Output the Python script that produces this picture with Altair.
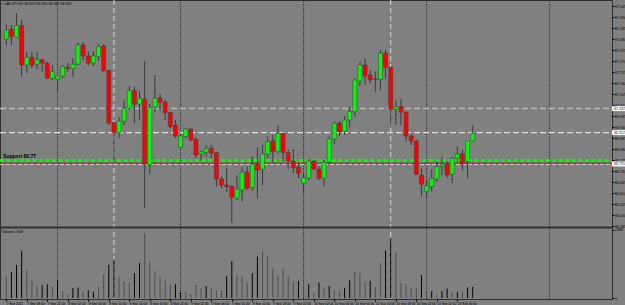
import json
import altair as alt
import pandas as pd

# ---------------- data ----------------
symbol_title = "CADJPY,H1  86.870 86.950 86.867 86.909"
volume_title = "Volume 1949"
note_text = "Support 86.77"

opens = [87.379, 87.428, 87.389, 87.447, 87.250, 87.289, 87.254, 87.277, 87.259, 87.184,
         87.179, 87.195, 87.239, 87.232, 87.254, 87.350, 87.295, 87.259, 87.292, 87.345,
         87.222, 86.962, 86.912, 86.969, 87.034, 87.122, 87.054, 87.079, 86.750, 87.039,
         87.084, 87.064, 87.012, 86.950, 86.839, 86.892, 86.930, 86.879, 86.805, 86.812,
         86.834, 86.812, 86.680, 86.650, 86.645, 86.584, 86.625, 86.714, 86.637, 86.755,
         86.729, 86.805, 86.870, 86.817, 86.909, 86.812, 86.770, 86.740, 86.659, 86.684,
         86.770, 86.729, 86.684, 86.764, 86.880, 86.959, 86.917, 86.975, 87.017, 87.170,
         87.250, 87.200, 87.180, 87.179, 87.309, 87.239, 87.029, 87.042, 87.014, 86.895,
         86.870, 86.700, 86.617, 86.642, 86.680, 86.745, 86.755, 86.704, 86.784, 86.805,
         86.767, 86.870]
highs = [87.455, 87.450, 87.509, 87.475, 87.317, 87.317, 87.314, 87.277, 87.267, 87.250,
         87.194, 87.250, 87.262, 87.284, 87.362, 87.362, 87.317, 87.317, 87.354, 87.354,
         87.225, 86.962, 86.989, 87.072, 87.145, 87.142, 87.120, 87.270, 87.055, 87.199,
         87.105, 87.075, 87.017, 86.975, 86.905, 86.934, 86.934, 86.889, 86.820, 86.850,
         86.850, 86.817, 86.692, 86.734, 86.645, 86.697, 86.739, 86.742, 86.792, 86.837,
         86.850, 86.892, 86.900, 86.947, 86.909, 86.829, 86.829, 86.762, 86.709, 86.779,
         86.775, 86.742, 86.775, 86.892, 86.967, 86.970, 86.995, 87.042, 87.184, 87.267,
         87.284, 87.225, 87.217, 87.325, 87.325, 87.242, 87.072, 87.079, 87.017, 86.905,
         86.875, 86.734, 86.675, 86.729, 86.767, 86.792, 86.767, 86.792, 86.842, 86.825,
         86.870, 86.950]
lows = [87.350, 87.350, 87.385, 87.192, 87.210, 87.234, 87.230, 87.217, 87.180, 87.175,
        87.110, 87.184, 87.217, 87.192, 87.250, 87.272, 87.247, 87.245, 87.272, 87.217,
        86.950, 86.760, 86.884, 86.950, 87.025, 86.959, 86.975, 86.534, 86.705, 87.012,
        87.025, 86.975, 86.934, 86.884, 86.839, 86.884, 86.867, 86.784, 86.772, 86.792,
        86.784, 86.642, 86.634, 86.617, 86.462, 86.575, 86.567, 86.625, 86.622, 86.584,
        86.650, 86.784, 86.759, 86.809, 86.767, 86.729, 86.709, 86.684, 86.617, 86.675,
        86.725, 86.675, 86.645, 86.759, 86.854, 86.895, 86.900, 86.939, 86.992, 87.145,
        87.150, 87.159, 87.117, 87.125, 87.184, 86.950, 86.950, 86.950, 86.867, 86.850,
        86.700, 86.592, 86.584, 86.617, 86.667, 86.700, 86.684, 86.659, 86.759, 86.725,
        86.684, 86.867]
closes = [87.425, 87.392, 87.447, 87.250, 87.289, 87.250, 87.277, 87.259, 87.184, 87.217,
          87.194, 87.242, 87.232, 87.254, 87.350, 87.295, 87.259, 87.295, 87.342, 87.222,
          86.959, 86.912, 86.969, 87.034, 87.122, 87.054, 87.084, 86.755, 87.039, 87.084,
          87.064, 87.012, 86.942, 86.895, 86.895, 86.930, 86.875, 86.800, 86.817, 86.834,
          86.809, 86.680, 86.650, 86.642, 86.589, 86.629, 86.714, 86.634, 86.755, 86.725,
          86.805, 86.867, 86.817, 86.909, 86.812, 86.770, 86.737, 86.709, 86.687, 86.770,
          86.729, 86.684, 86.764, 86.880, 86.959, 86.917, 86.975, 87.017, 87.175, 87.250,
          87.195, 87.175, 87.178, 87.309, 87.239, 87.029, 87.042, 87.014, 86.895, 86.870,
          86.704, 86.654, 86.647, 86.684, 86.742, 86.755, 86.700, 86.784, 86.805, 86.755,
          86.870, 86.909]
volumes = [660, 790, 1010, 1440, 860, 520, 370, 390, 420, 360,
           540, 210, 120, 300, 320, 180, 240, 190, 340, 720,
           1010, 1170, 640, 500, 460, 760, 1070, 1970, 1120, 810,
           640, 520, 390, 420, 190, 170, 120, 400, 300, 360,
           320, 240, 240, 670, 1120, 690, 660, 460, 760, 1260,
           1420, 1270, 910, 660, 890, 660, 490, 520, 330, 420,
           160, 470, 320, 370, 220, 210, 310, 540, 790, 740,
           490, 520, 340, 1060, 1440, 1800, 1380, 460, 420, 320,
           320, 700, 240, 210, 90, 210, 290, 190, 180, 160,
           320, 340]
volume_shade = list("GBBBGGGBBG" "BGGBBGBBGG" "BBGGGBBGGG" "GGGBBGGGGB" "GGGBBGGGBB"
                    "GGGGGGGBGB" "GBGBGGBBGG" "GBGGBBGGGG" "GBGBGBBGBG" "BB")

time_tick_bars = [0, 4, 8, 12, 16, 20, 24, 28, 32, 36, 40, 44, 48, 52, 56, 60,
                  64, 68, 72, 76, 80, 84, 88]
time_labels = ["7 Sep 2021", "7 Sep 18:00", "7 Sep 22:00", "8 Sep 02:00", "8 Sep 06:00",
               "8 Sep 10:00", "8 Sep 14:00", "8 Sep 18:00", "8 Sep 22:00", "9 Sep 02:00",
               "9 Sep 06:00", "9 Sep 10:00", "9 Sep 14:00", "9 Sep 18:00", "9 Sep 22:00",
               "10 Sep 02:00", "10 Sep 06:00", "10 Sep 10:00", "10 Sep 14:00", "10 Sep 18:00",
               "10 Sep 22:00", "13 Sep 02:00", "13 Sep 06:00"]
price_ticks = [87.545, 87.490, 87.435, 87.380, 87.325, 87.270, 87.215, 87.160, 87.105,
               87.050, 86.995, 86.940, 86.885, 86.830, 86.775, 86.720, 86.665, 86.610,
               86.555, 86.500, 86.445]
volume_ticks = [0, 2083]

day_separator_bars = [10, 34, 58, 82, 106]
marker_line_bars = [21, 75]

level_gray = [87.032]
level_bid = [86.912]
level_green = [86.773]
level_red = [86.759]
level_light = [86.753]
box_levels = [87.032, 86.912, 86.755]

# ---------------- frame ----------------
PLOT_W = 612
PLOT_H = 299
PRICE_BOTTOM = 227
BG = "#808080"

df = pd.DataFrame({"i": list(range(len(opens))), "open": opens, "high": highs,
                   "low": lows, "close": closes, "vol": volumes, "shade": volume_shade})

x_scale = alt.Scale(domain=[-0.25, 117.2], nice=False, zero=False)
label_js = json.dumps(time_labels)
x_axis = alt.Axis(orient="bottom", values=time_tick_bars, title=None,
                  labelExpr=f"{label_js}[round(datum.value/4)]",
                  labelFontSize=3.2, labelAlign="left", labelPadding=0.5, tickSize=2,
                  tickColor="#000000", labelColor="#000000", domain=False, grid=False,
                  labelOverlap=False, labelBound=False, labelFlush=False)
x_enc = alt.X("i:Q", scale=x_scale, axis=x_axis)

price_scale = alt.Scale(domain=[86.440, 87.575], range=[PRICE_BOTTOM, 0], nice=False, zero=False)
price_axis = alt.Axis(orient="right", values=price_ticks, format=".3f", title=None,
                      labelFontSize=3.6, tickSize=2, labelPadding=0.5, domain=False,
                      grid=False, labelColor="#000000", tickColor="#000000",
                      labelOverlap=False, labelBound=False, labelFlush=False)

vol_scale = alt.Scale(domain=[0, 2100], range=[298, 229], nice=False, zero=True)
vol_axis = alt.Axis(orient="right", values=volume_ticks, format="d", title=None,
                    labelFontSize=3.6, tickSize=2, labelPadding=0.5, domain=False,
                    grid=False, labelColor="#000000", tickColor="#000000",
                    labelOverlap=False, labelBound=False, labelFlush=False)

one = pd.DataFrame({"a": [0]})

# ---------------- price panel ----------------
wicks = alt.Chart(df).mark_rule(color="#3a3a3a", strokeWidth=1).encode(
    x=x_enc, y=alt.Y("low:Q", scale=price_scale, axis=price_axis), y2="high:Q")

bodies = alt.Chart(df).mark_bar(width=4, stroke="#3a3a3a", strokeWidth=0.5).encode(
    x=x_enc,
    y=alt.Y("open:Q", scale=price_scale, axis=price_axis),
    y2="close:Q",
    color=alt.condition("datum.close >= datum.open", alt.value("#00ff00"), alt.value("#ff0000")),
)


def hline(levels, color, width, dash=None):
    kw = dict(color=color, strokeWidth=width)
    if dash:
        kw["strokeDash"] = dash
    return alt.Chart(pd.DataFrame({"p": levels})).mark_rule(**kw).encode(
        y=alt.Y("p:Q", scale=price_scale, axis=price_axis),
        x=alt.value(0), x2=alt.value(PLOT_W))


lines = [
    hline(level_gray, "#b9b9b9", 1.5, [6, 3]),
    hline(level_bid, "#dedede", 1.2, [6, 3]),
    hline(level_light, "#d6d6d6", 1.0, [4, 2]),
    hline(level_red, "#c00000", 0.8),
    hline(level_green, "#00ff00", 3.0, [4, 2.5]),
]

boxes_df = pd.DataFrame({"p": box_levels})
boxes = alt.Chart(boxes_df).transform_calculate(
    top="datum.p + 0.012", bot="datum.p - 0.012"
).mark_rect(fill="#ffffff", stroke="#c0c0c0", strokeWidth=0.4).encode(
    y=alt.Y("top:Q", scale=price_scale, axis=price_axis), y2="bot:Q",
    x=alt.value(PLOT_W), x2=alt.value(PLOT_W + 14))
box_text = alt.Chart(boxes_df).mark_text(
    align="left", baseline="middle", fontSize=3.6, color="#202020"
).encode(
    y=alt.Y("p:Q", scale=price_scale, axis=price_axis),
    x=alt.value(PLOT_W + 2), text=alt.Text("p:Q", format=".3f"))

note = alt.Chart(pd.DataFrame({"t": [note_text], "p": level_green})).mark_text(
    align="left", baseline="bottom", fontSize=5, fontWeight=900, color="#000000", dy=-1
).encode(y=alt.Y("p:Q", scale=price_scale, axis=price_axis), x=alt.value(3), text="t:N")

price_panel = alt.layer(*lines, wicks, bodies, note, boxes, box_text)

# ---------------- volume panel ----------------
vol_bars = alt.Chart(df).mark_rule(strokeWidth=1).encode(
    x=x_enc,
    y=alt.Y("vol:Q", scale=vol_scale, axis=vol_axis),
    y2=alt.datum(0),
    color=alt.condition("datum.shade == 'B'", alt.value("#000000"), alt.value("#4e4e4e")),
)
volume_panel = alt.layer(vol_bars)

# ---------------- vertical lines & frame ----------------
seps = alt.Chart(pd.DataFrame({"i": day_separator_bars})).mark_rule(
    color="#2e2e2e", strokeWidth=1, strokeDash=[1, 1]
).encode(x=x_enc, y=alt.value(0), y2=alt.value(PLOT_H))

vmarks = alt.Chart(pd.DataFrame({"i": marker_line_bars})).mark_rule(
    color="#d8d8d8", strokeWidth=1, strokeDash=[5, 3]
).encode(x=x_enc, y=alt.value(0), y2=alt.value(PLOT_H))

divider = alt.Chart(one).mark_rule(color="#333333", strokeWidth=2).encode(
    x=alt.value(0), x2=alt.value(PLOT_W), y=alt.value(PRICE_BOTTOM + 0.5))

title_txt = alt.Chart(pd.DataFrame({"t": ["\u25AA " + symbol_title]})).mark_text(
    align="left", baseline="middle", fontSize=3.6, color="#000000"
).encode(x=alt.value(2), y=alt.value(3.5), text="t:N")

vol_txt = alt.Chart(pd.DataFrame({"t": [volume_title]})).mark_text(
    align="left", baseline="middle", fontSize=3.6, color="#000000"
).encode(x=alt.value(2), y=alt.value(232), text="t:N")

chart = alt.layer(
    seps, vmarks, price_panel, volume_panel, divider, title_txt, vol_txt
).resolve_scale(y="independent").properties(
    width=PLOT_W, height=PLOT_H,
    autosize=alt.AutoSizeParams(type="none"),
    padding={"left": 0, "top": 0, "right": 13, "bottom": 6},
    background=BG,
).configure_view(
    stroke="#2e2e2e", strokeWidth=1, fill=BG
).configure_axis(
    labelFont="Liberation Sans"
).configure_text(
    font="Liberation Sans"
)

chart.save("out.html", embed_options={"renderer": "svg", "actions": False})
